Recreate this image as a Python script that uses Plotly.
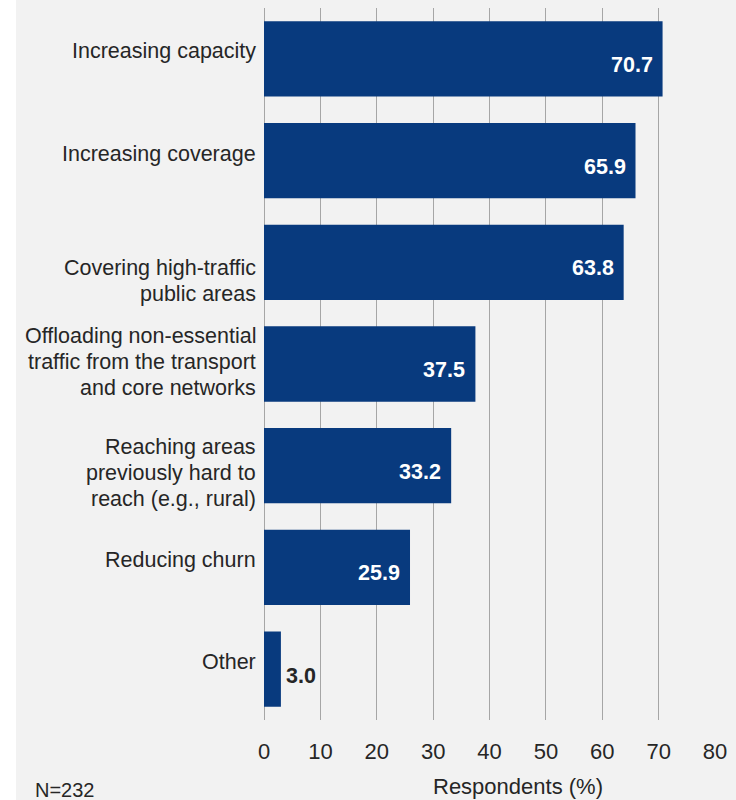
import plotly.graph_objects as go

# ---- data ----
categories = [
    "Increasing capacity",
    "Increasing coverage",
    "Covering high-traffic\npublic areas",
    "Offloading non-essential\ntraffic from the transport\nand core networks",
    "Reaching areas\npreviously hard to\nreach (e.g., rural)",
    "Reducing churn",
    "Other",
]
values = [70.7, 65.9, 63.8, 37.5, 33.2, 25.9, 3.0]
x_ticks = [0, 10, 20, 30, 40, 50, 60, 70, 80]
x_title = "Respondents (%)"
note = "N=232"

# ---- style ----
FONT = "Arial, Liberation Sans, sans-serif"
TEXT = "#262626"
BAR = "#083A7E"
BG = "#F2F2F2"
GRID = "#A6A6A6"
label_block_shift = [8, 6.5, -18.5, 2.5, -7.5, 7.8, 7.5]
LINE_STEP = 26

ycats = [c.replace("\n", " ") for c in categories]

fig = go.Figure(go.Bar(
    y=ycats, x=values, orientation="h",
    marker=dict(color=BAR, line=dict(width=0)),
    width=0.74, hoverinfo="skip",
))

annotations = []
for cat, label, shift in zip(ycats, categories, label_block_shift):
    lines = label.split("\n")
    n = len(lines)
    for i, line in enumerate(lines):
        annotations.append(dict(
            x=0, xref="paper", y=cat, yref="y", text=line, showarrow=False,
            xanchor="right", yanchor="middle", xshift=-6,
            yshift=shift - (i - (n - 1) / 2) * LINE_STEP,
            font=dict(family=FONT, size=21.5, color=TEXT),
        ))

for cat, v in zip(ycats, values):
    inside = v >= 10
    annotations.append(dict(
        x=v, xref="x", y=cat, yref="y", text=f"<b>{v:.1f}</b>", showarrow=False,
        xanchor="right" if inside else "left", yanchor="middle",
        xshift=-8 if inside else 3, yshift=-6 if inside else -7,
        font=dict(family=FONT, size=21.5, color="white" if inside else TEXT),
    ))

annotations.append(dict(
    x=0.563, xref="paper", y=-0.093, yref="paper", text=x_title, showarrow=False,
    xanchor="center", yanchor="middle",
    font=dict(family=FONT, size=22, color=TEXT),
))
annotations.append(dict(
    x=-0.512, xref="paper", y=-0.098, yref="paper", text=note, showarrow=False,
    xanchor="left", yanchor="middle",
    font=dict(family=FONT, size=20, color=TEXT),
))

fig.update_layout(
    width=736, height=800,
    margin=dict(l=264, r=21, t=8, b=80, pad=0),
    paper_bgcolor=BG, plot_bgcolor=BG,
    showlegend=False,
    annotations=annotations,
    shapes=[dict(type="rect", xref="paper", yref="paper",
                 x0=-264 / 451, x1=-248 / 451, y0=-0.2, y1=1.1,
                 fillcolor="white", line=dict(width=0), layer="above")],
    xaxis=dict(
        range=[0, 80], tickvals=x_ticks, showgrid=True, gridcolor=GRID, gridwidth=1,
        zeroline=True, zerolinecolor=GRID, zerolinewidth=1, showline=False,
        ticks="", ticklabelstandoff=16,
        tickfont=dict(family=FONT, size=22, color=TEXT), fixedrange=True,
    ),
    yaxis=dict(
        categoryorder="array", categoryarray=ycats, autorange="reversed",
        showticklabels=False, showgrid=False, zeroline=False, ticks="",
        fixedrange=True,
    ),
)

fig.write_html(
    "out.html",
    config={"displayModeBar": False},
    post_script="document.body.style.margin='0';document.body.style.overflow='hidden';",
)
